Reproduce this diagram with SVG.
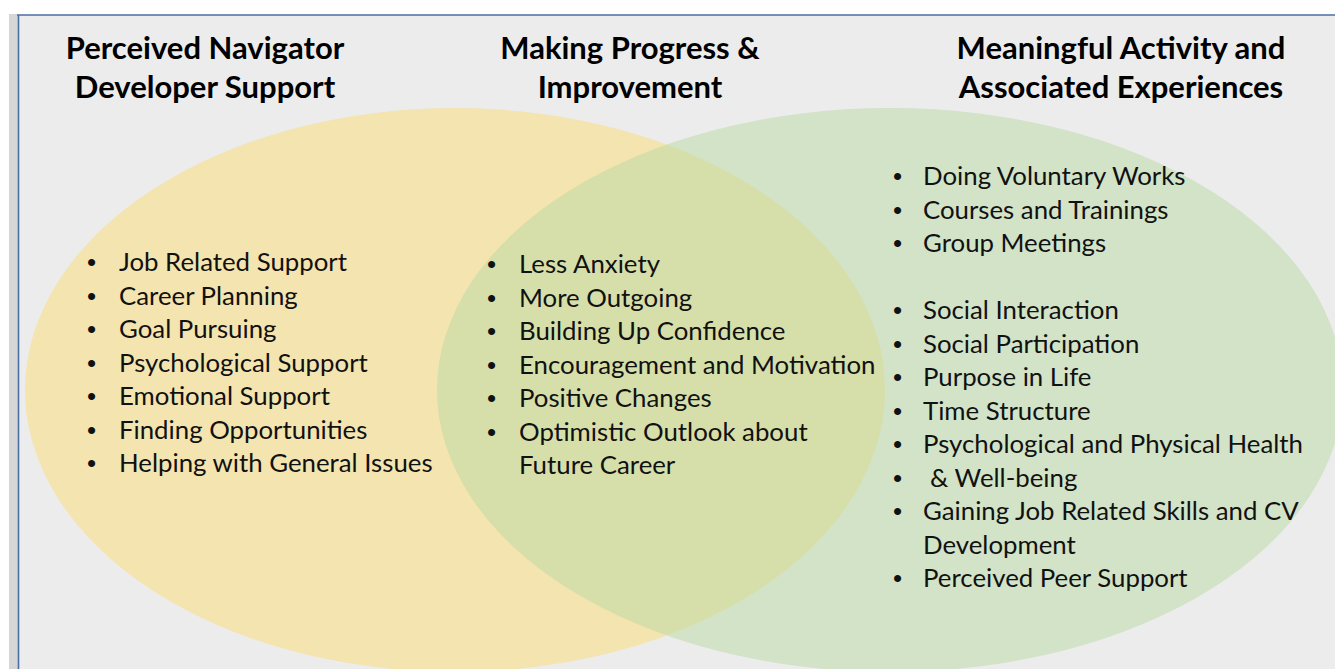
<svg xmlns="http://www.w3.org/2000/svg" width="1335" height="669" viewBox="0 0 1335 669">
<style>
.title{font-family:Lato,"Open Sans","Liberation Sans",sans-serif;font-weight:bold;font-size:31px;fill:#000;text-anchor:middle}
.item{font-family:Lato,"Open Sans","Liberation Sans",sans-serif;font-size:25.8px;fill:#111}
.bul{font-family:"Liberation Sans",sans-serif;font-size:26px;fill:#111}
</style>
<rect x="0" y="0" width="1335" height="669" fill="#ffffff"/>
<rect x="9" y="14" width="9" height="655" fill="#d6d6d6"/>
<rect x="18" y="15" width="1317" height="654" fill="#ececec"/>
<line x1="17" y1="15" x2="1335" y2="15" stroke="#4a6fa5" stroke-width="1.6"/>
<line x1="18.5" y1="15" x2="18.5" y2="669" stroke="#4a6fa5" stroke-width="1.6"/>
<g id="circle-left"><ellipse cx="455" cy="390" rx="430" ry="282" fill="#f4e4b0"/></g>
<g id="circle-right"><ellipse cx="890" cy="390" rx="453" ry="282" fill="#b8daa4" fill-opacity="0.5"/></g>
<g id="titles">
<text class="title" x="205" y="59">Perceived Navigator</text>
<text class="title" x="205" y="98">Developer Support</text>
<text class="title" x="630" y="59">Making Progress &amp;</text>
<text class="title" x="630" y="98">Improvement</text>
<text class="title" x="1121" y="59">Meaningful Activity and</text>
<text class="title" x="1121" y="98">Associated Experiences</text>
</g>
<g id="list-left">
<text class="bul" x="87" y="271">•</text><text class="item" x="119" y="271">Job Related Support</text>
<text class="bul" x="87" y="304.5">•</text><text class="item" x="119" y="304.5">Career Planning</text>
<text class="bul" x="87" y="338">•</text><text class="item" x="119" y="338">Goal Pursuing</text>
<text class="bul" x="87" y="371.5">•</text><text class="item" x="119" y="371.5">Psychological Support</text>
<text class="bul" x="87" y="405">•</text><text class="item" x="119" y="405">Emotional Support</text>
<text class="bul" x="87" y="438.5">•</text><text class="item" x="119" y="438.5">Finding Opportunities</text>
<text class="bul" x="87" y="472">•</text><text class="item" x="119" y="472">Helping with General Issues</text>
</g>
<g id="list-middle">
<text class="bul" x="487" y="273">•</text><text class="item" x="519" y="273">Less Anxiety</text>
<text class="bul" x="487" y="306.5">•</text><text class="item" x="519" y="306.5">More Outgoing</text>
<text class="bul" x="487" y="340">•</text><text class="item" x="519" y="340">Building Up Confidence</text>
<text class="bul" x="487" y="373.5">•</text><text class="item" x="519" y="373.5">Encouragement and Motivation</text>
<text class="bul" x="487" y="407">•</text><text class="item" x="519" y="407">Positive Changes</text>
<text class="bul" x="487" y="440.5">•</text><text class="item" x="519" y="440.5">Optimistic Outlook about</text>
<text class="item" x="519" y="474">Future Career</text>
</g>
<g id="list-right">
<text class="bul" x="893" y="185">•</text><text class="item" x="923" y="185">Doing Voluntary Works</text>
<text class="bul" x="893" y="218.5">•</text><text class="item" x="923" y="218.5">Courses and Trainings</text>
<text class="bul" x="893" y="252">•</text><text class="item" x="923" y="252">Group Meetings</text>
<text class="bul" x="893" y="319">•</text><text class="item" x="923" y="319">Social Interaction</text>
<text class="bul" x="893" y="352.5">•</text><text class="item" x="923" y="352.5">Social Participation</text>
<text class="bul" x="893" y="386">•</text><text class="item" x="923" y="386">Purpose in Life</text>
<text class="bul" x="893" y="419.5">•</text><text class="item" x="923" y="419.5">Time Structure</text>
<text class="bul" x="893" y="453">•</text><text class="item" x="923" y="453">Psychological and Physical Health</text>
<text class="bul" x="893" y="486.5">•</text><text class="item" x="930" y="486.5">&amp; Well-being</text>
<text class="bul" x="893" y="520">•</text><text class="item" x="923" y="520">Gaining Job Related Skills and CV</text>
<text class="item" x="923" y="553.5">Development</text>
<text class="bul" x="893" y="587">•</text><text class="item" x="923" y="587">Perceived Peer Support</text>
</g>
</svg>
